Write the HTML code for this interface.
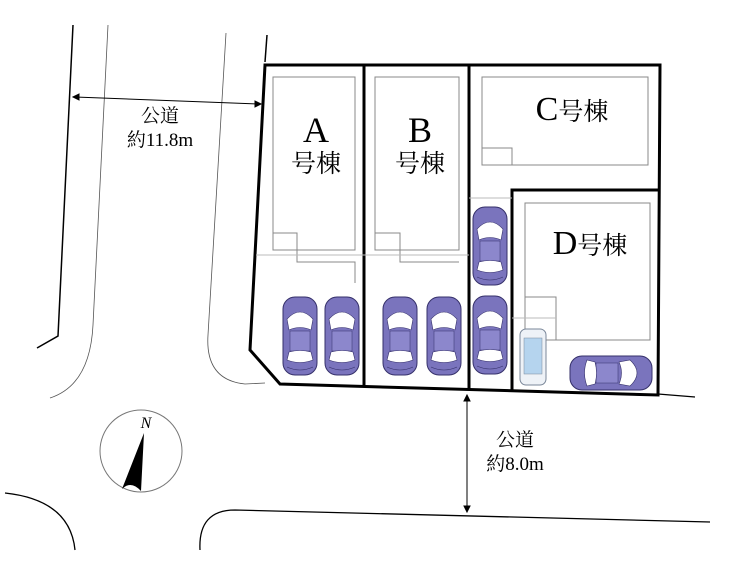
<!DOCTYPE html>
<html><head><meta charset="utf-8"><style>
html,body{margin:0;padding:0;background:#fff;}
svg{display:block;font-family:"Liberation Serif","Noto Serif CJK SC",serif;}
</style></head><body>
<svg width="740" height="579" viewBox="0 0 740 579" xmlns="http://www.w3.org/2000/svg">
<defs>
<g id="car">
<rect x="0" y="0" width="34" height="78" rx="12" fill="#7a74bd" stroke="#35306a" stroke-width="1"/>
<path d="M4 22 Q17 8 30 22 L28 33 Q17 28 6 33 Z" fill="#fff" stroke="#35306a" stroke-width="0.6"/>
<rect x="7" y="34" width="20" height="20" fill="#8c87cc" stroke="#35306a" stroke-width="0.5"/>
<path d="M6 55 Q17 52 28 55 L30 63 Q17 68 4 63 Z" fill="#fff" stroke="#35306a" stroke-width="0.6"/>
<path d="M4 70 Q17 76 30 70" fill="none" stroke="#35306a" stroke-width="0.6"/>
</g>
</defs>
<g fill="none" stroke="#000">
<path d="M73 25 L58 336 L37 348" stroke-width="1.5"/>
<path d="M108 25 L93 325 Q90 385 50 398" stroke-width="0.8" stroke="#555"/>
<path d="M226 33 L208 335 Q205 380 245 384 L265 383" stroke-width="0.8" stroke="#555"/>
<path d="M267 35 L265 62" stroke-width="1.5"/>
<path d="M658 394 L695 397" stroke-width="1.2"/>
<path d="M5 493 Q70 500 75 550" stroke-width="1.3"/>
<path d="M200 550 Q198 510 235 510 L710 522" stroke-width="1.3"/>
</g>
<g fill="none" stroke="#000" stroke-width="3">
<path d="M265 65 L660 65 L658 395 L280 384 L250 350 Z"/>
<line x1="364" y1="65" x2="364" y2="386"/>
<line x1="469" y1="65" x2="469" y2="389"/>
<path d="M512 390 L512 190 L658 190"/>
</g>
<g fill="none" stroke="#888" stroke-width="1">
<rect x="273" y="77" width="82" height="173"/>
<path d="M273 233 H297 V262 H355 V283"/>
<line x1="256" y1="255" x2="364" y2="255" stroke="#bbb"/>
<rect x="375" y="77" width="84" height="173"/>
<path d="M375 233 H400 V262 H459"/>
<line x1="364" y1="255" x2="469" y2="255" stroke="#bbb"/>
<rect x="482" y="77" width="166" height="88"/>
<path d="M482 148 H512 V165"/>
<line x1="469" y1="198" x2="512" y2="198" stroke="#bbb"/>
<rect x="525" y="203" width="125" height="137"/>
<path d="M525 297 H556 V340"/>
<line x1="512" y1="318" x2="556" y2="318" stroke="#bbb"/>
</g>
<use href="#car" x="283" y="297"/>
<use href="#car" x="325" y="297"/>
<use href="#car" x="383" y="297"/>
<use href="#car" x="427" y="297"/>
<use href="#car" x="473" y="207"/>
<use href="#car" x="473" y="296"/>
<g>
<rect x="520" y="329" width="26" height="56" rx="6" fill="#eef2f7" stroke="#7a8799"/>
<rect x="524" y="338" width="18" height="36" fill="#b5d4ee" stroke="#7a8799" stroke-width="0.5"/>
</g>
<g transform="translate(652,356) rotate(90)">
<rect x="0" y="0" width="34" height="82" rx="12" fill="#7a74bd" stroke="#35306a"/>
<path d="M4 22 Q17 8 30 22 L28 33 Q17 28 6 33 Z" fill="#fff" stroke="#35306a" stroke-width="0.6"/>
<rect x="7" y="34" width="20" height="22" fill="#8c87cc" stroke="#35306a" stroke-width="0.5"/>
<path d="M6 57 Q17 54 28 57 L30 65 Q17 70 4 65 Z" fill="#fff" stroke="#35306a" stroke-width="0.6"/>
</g>
<g fill="#000" text-anchor="middle">
<text x="316" y="142" font-size="36">A</text>
<text x="316" y="172" font-size="25">号棟</text>
<text x="420" y="142" font-size="36">B</text>
<text x="420" y="172" font-size="25">号棟</text>
<text x="572" y="120" font-size="34">C<tspan font-size="25">号棟</tspan></text>
<text x="590" y="254" font-size="34">D<tspan font-size="25">号棟</tspan></text>
<text x="160" y="122" font-size="19">公道</text>
<text x="160" y="146" font-size="19">約11.8m</text>
<text x="515" y="446" font-size="19">公道</text>
<text x="515" y="470" font-size="19">約8.0m</text>
</g>
<g stroke="#000" stroke-width="1" fill="#000">
<line x1="75" y1="97" x2="258" y2="104"/>
<path d="M73 97 l6 -3 v6 Z"/>
<path d="M261 104 l-6 -3 v6 Z"/>
<line x1="467" y1="398" x2="467" y2="509"/>
<path d="M467 395 l-3 6 h6 Z"/>
<path d="M467 512 l-3 -6 h6 Z"/>
</g>
<circle cx="141" cy="451" r="41" fill="none" stroke="#777" stroke-width="1"/>
<text x="146" y="428" font-size="16" font-style="italic" text-anchor="middle">N</text>
<path d="M144 433 L122 489 Q131 480 141 491 Z" fill="#000"/>
</svg>
</body></html>
